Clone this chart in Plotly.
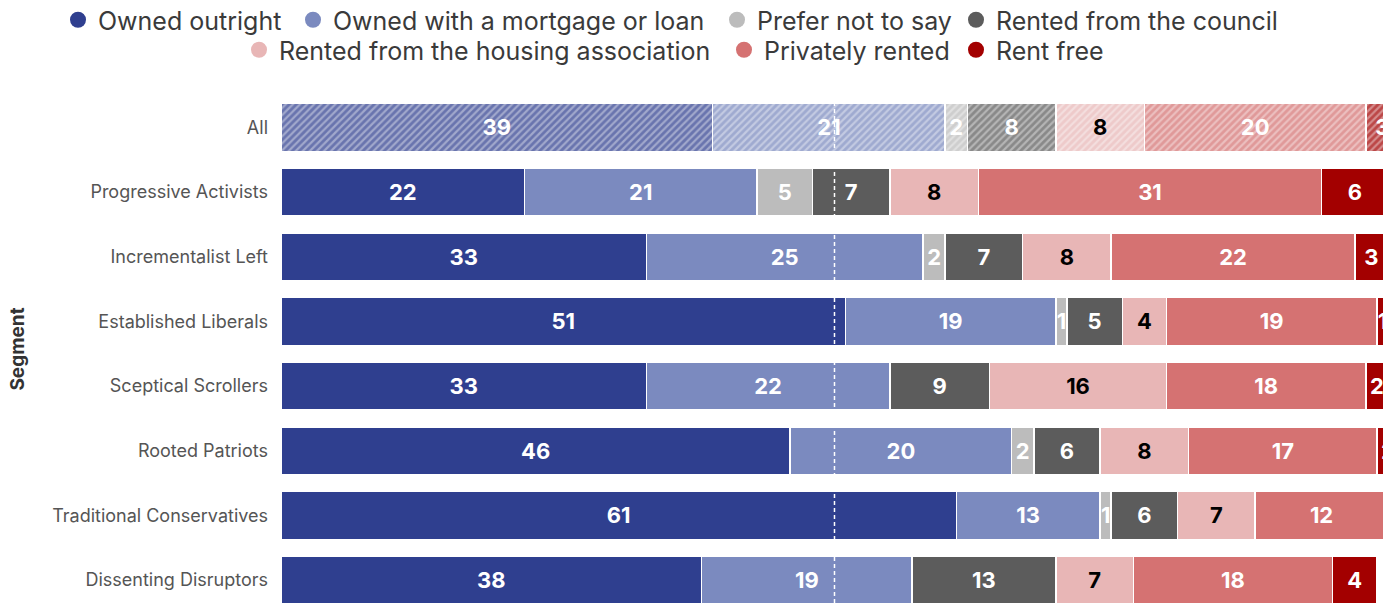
import plotly.graph_objects as go

segments = [
    "All",
    "Progressive Activists",
    "Incrementalist Left",
    "Established Liberals",
    "Sceptical Scrollers",
    "Rooted Patriots",
    "Traditional Conservatives",
    "Dissenting Disruptors",
]

owned_outright = [39, 22, 33, 51, 33, 46, 61, 38]
owned_mortgage = [21, 21, 25, 19, 22, 20, 13, 19]
prefer_not_say = [2, 5, 2, 1, 0, 2, 1, 0]
rented_council = [8, 7, 7, 5, 9, 6, 6, 13]
rented_housing_assoc = [8, 8, 8, 4, 16, 8, 7, 7]
privately_rented = [20, 31, 22, 19, 18, 17, 12, 18]
rent_free = [3, 6, 3, 1, 2, 2, 0, 4]

series = [
    ("Owned outright", owned_outright, (47, 63, 143), "white"),
    ("Owned with a mortgage or loan", owned_mortgage, (123, 138, 191), "white"),
    ("Prefer not to say", prefer_not_say, (188, 188, 188), "white"),
    ("Rented from the council", rented_council, (92, 92, 92), "white"),
    ("Rented from the housing association", rented_housing_assoc, (232, 182, 182), "black"),
    ("Privately rented", privately_rented, (213, 114, 114), "white"),
    ("Rent free", rent_free, (163, 0, 0), "white"),
]

# legend placement: (row centre y, x where the label text starts)
legend_slots = [(20, 98), (20, 333), (20, 757), (20, 996),
                (50, 279), (50, 764), (50, 996)]

FONT = "Inter"


def rgb(c):
    return "rgb({},{},{})".format(*c)


def lighten(c, k):
    return tuple(int(v + (255 - v) * k) for v in c)


def labels(vals):
    return [str(v) if v > 0 else "" for v in vals]


text_style = dict(
    orientation="h",
    showlegend=False,
    textposition="inside",
    insidetextanchor="middle",
    textangle=0,
    constraintext="none",
    hoverinfo="x+y+name",
)

fig = go.Figure()

for name, vals, col, txtcol in series:
    # total row: lighter hatched fill
    fig.add_trace(go.Bar(
        y=segments[:1],
        x=vals[:1],
        name=name,
        marker=dict(
            color=rgb(lighten(col, 0.28)),
            line=dict(color="white", width=1.5),
            pattern=dict(shape="/", bgcolor=rgb(lighten(col, 0.28)),
                         fgcolor=rgb(lighten(col, 0.55)), fgopacity=1,
                         size=5, solidity=0.45, fillmode="replace"),
        ),
        text=labels(vals[:1]),
        textfont=dict(family=FONT, size=22, color=txtcol, weight="bold"),
        **text_style,
    ))
    # segment rows: solid fill
    fig.add_trace(go.Bar(
        y=segments[1:],
        x=vals[1:],
        name=name,
        marker=dict(color=rgb(col), line=dict(color="white", width=1.5)),
        text=labels(vals[1:]),
        textfont=dict(family=FONT, size=22, color=txtcol, weight="bold"),
        **text_style,
    ))

# one legend per entry so each sits exactly in its row and column
legend_layout = {}
for i, ((name, vals, col, txtcol), (yc, xt)) in enumerate(zip(series, legend_slots)):
    key = "legend" if i == 0 else f"legend{i + 1}"
    fig.add_trace(go.Scatter(
        x=[None], y=[None],
        mode="markers",
        name=name,
        marker=dict(symbol="circle", size=19, color=rgb(col)),
        legend=key,
        showlegend=True,
    ))
    legend_layout[key] = dict(
        orientation="h",
        xref="container",
        yref="container",
        x=(xt - 40) / 1383,
        y=1 - yc / 603,
        xanchor="left",
        yanchor="middle",
        font=dict(family=FONT, size=25, color="#3a3a3a"),
        bgcolor="rgba(0,0,0,0)",
        borderwidth=0,
        itemclick=False,
        itemdoubleclick=False,
    )

fig.update_layout(
    width=1383,
    height=603,
    margin=dict(l=281, r=0, t=95, b=0),
    paper_bgcolor="white",
    plot_bgcolor="white",
    barmode="stack",
    bargap=0.26,
    font=dict(family=FONT, color="#444"),
    xaxis=dict(
        range=[0, 99.55],
        showticklabels=False,
        showgrid=False,
        zeroline=False,
        showline=False,
        fixedrange=True,
    ),
    yaxis=dict(
        type="category",
        categoryorder="array",
        categoryarray=segments,
        range=[7.355, -0.5],
        showgrid=False,
        zeroline=False,
        showline=False,
        ticks="",
        ticklabelstandoff=12,
        tickfont=dict(family=FONT, size=18, color="#555"),
        title=dict(text="Segment",
                   font=dict(family=FONT, size=19, color="#333", weight="bold"),
                   standoff=22),
        fixedrange=True,
    ),
    shapes=[dict(
        type="line", xref="x", yref="paper",
        x0=50, x1=50, y0=0, y1=1,
        line=dict(color="white", width=1.5, dash="4px,3px"),
        layer="above",
    )],
    **legend_layout,
)

fig.write_html("out.html")
